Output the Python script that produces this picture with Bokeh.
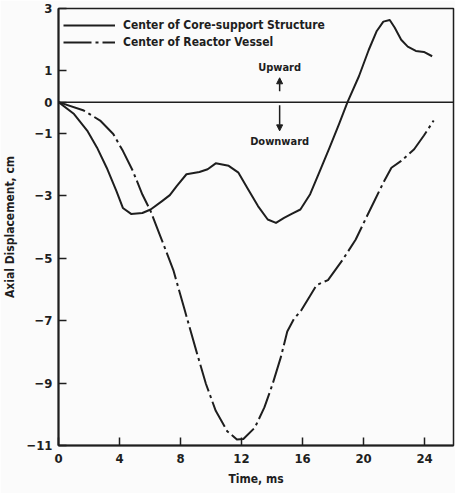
from bokeh.plotting import figure
from bokeh.models import (FixedTicker, Span, Legend, LegendItem, Label, Arrow,
                          NormalHead, Range1d)
from bokeh.embed import file_html
from bokeh.resources import INLINE

# Core-support structure (solid)
core_t = [0, 1.02, 1.88, 2.52, 3.16, 3.8, 4.22, 4.76, 5.5, 6.04, 6.79, 7.3,
          7.75, 8.39, 9.24, 9.78, 10.31, 11.16, 11.8, 12.44, 13.08, 13.72,
          14.26, 14.79, 15.32, 15.86, 16.5, 17.14, 17.78, 18.4, 18.95, 19.7,
          20.34, 20.87, 21.3, 21.72, 22.04, 22.47, 22.9, 23.43, 23.96, 24.5]
core_d = [0, -0.38, -0.91, -1.45, -2.1, -2.85, -3.39, -3.58, -3.55, -3.44,
          -3.17, -2.98, -2.69, -2.31, -2.24, -2.15, -1.96, -2.04, -2.26, -2.8,
          -3.33, -3.76, -3.87, -3.71, -3.57, -3.44, -2.95, -2.2, -1.45, -0.7,
          0.0, 0.83, 1.67, 2.28, 2.58, 2.63, 2.39, 2.0, 1.78, 1.64, 1.61, 1.47]

# Reactor vessel (dash-dot)
vessel_t = [0, 1.66, 2.73, 3.59, 4.22, 4.87, 5.5, 6.04, 6.68, 7.53, 8.28, 9.03,
            9.67, 10.31, 11.06, 11.7, 12.12, 12.87, 13.5, 14.04, 14.58, 15.0,
            15.43, 15.9, 16.5, 16.92, 17.67, 18.63, 19.48, 20.12, 20.76, 21.3,
            21.83, 22.47, 23.32, 23.96, 24.6]
vessel_d = [0, -0.27, -0.59, -1.02, -1.56, -2.2, -2.96, -3.49, -4.3, -5.38,
            -6.67, -7.96, -9.03, -9.89, -10.54, -10.81, -10.79, -10.43, -9.78,
            -9.03, -8.17, -7.35, -6.95, -6.68, -6.2, -5.86, -5.7, -5.05, -4.41,
            -3.76, -3.12, -2.58, -2.1, -1.88, -1.51, -1.07, -0.59]

x_ticks = [0, 4, 8, 12, 16, 20, 24]
y_ticks = [-11, -9, -7, -5, -3, -1, 0, 1, 3]

FONT = "DejaVu Sans Condensed"
INK = "#1e1e1e"

p = figure(width=455, height=493, output_backend="svg", toolbar_location=None,
           x_range=Range1d(0, 25.9), y_range=Range1d(-11, 3),
           min_border_left=49, min_border_right=2, min_border_top=8,
           min_border_bottom=48)
p.grid.visible = False
p.background_fill_color = "#fbfbfb"
p.border_fill_color = "#fbfbfb"
p.outline_line_color = INK
p.outline_line_width = 1.5

for ax in (p.xaxis[0], p.yaxis[0]):
    ax.axis_line_width = 2
    ax.axis_line_color = INK
    ax.major_tick_in = 8
    ax.major_tick_out = 0
    ax.major_tick_line_width = 1.5
    ax.major_tick_line_color = INK
    ax.minor_tick_line_color = None
    ax.major_label_text_font = FONT
    ax.major_label_text_font_style = "bold"
    ax.major_label_text_font_size = "13px"
    ax.major_label_text_color = INK
    ax.axis_label_text_font = FONT
    ax.axis_label_text_font_style = "bold"
    ax.axis_label_text_font_size = "12px"
    ax.axis_label_text_color = INK

p.xaxis.ticker = FixedTicker(ticks=x_ticks)
p.yaxis.ticker = FixedTicker(ticks=y_ticks)
p.xaxis.axis_label = "Time, ms"
p.yaxis.axis_label = "Axial Displacement, cm"
p.xaxis.major_label_standoff = 8
p.yaxis.major_label_standoff = 6
p.xaxis.axis_label_standoff = 6
p.yaxis.axis_label_standoff = 6

p.add_layout(Span(location=0, dimension="width", line_color=INK, line_width=1.5))

r1 = p.line(core_t, core_d, line_color=INK, line_width=2, line_join="round")
r2 = p.line(vessel_t, vessel_d, line_color=INK, line_width=2, line_join="round",
            line_dash="28 4 3 4")

legend = Legend(items=[LegendItem(label="Center of Core-support Structure", renderers=[r1]),
                       LegendItem(label="Center of Reactor Vessel", renderers=[r2])],
                location=(5, 395), glyph_width=52, glyph_height=16, label_height=16,
                label_standoff=8, padding=0, margin=0, spacing=1,
                border_line_alpha=0, background_fill_alpha=0,
                label_text_font=FONT, label_text_font_style="bold",
                label_text_font_size="12px", label_text_color=INK)
p.add_layout(legend)

p.add_layout(Label(x=14.5, y=1.1, text="Upward", text_align="center",
                   text_baseline="middle", text_font=FONT, text_font_style="bold",
                   text_font_size="11px", text_color=INK))
p.add_layout(Label(x=14.5, y=-1.27, text="Downward", text_align="center",
                   text_baseline="middle", text_font=FONT, text_font_style="bold",
                   text_font_size="11px", text_color=INK))
p.add_layout(Arrow(x_start=14.5, y_start=0.35, x_end=14.5, y_end=0.78,
                   line_color=INK, line_width=1.5,
                   end=NormalHead(size=6, fill_color=INK, line_color=INK)))
p.add_layout(Arrow(x_start=14.5, y_start=-0.1, x_end=14.5, y_end=-0.92,
                   line_color=INK, line_width=1.5,
                   end=NormalHead(size=6, fill_color=INK, line_color=INK)))

open("out.html", "w").write(file_html(p, INLINE))
